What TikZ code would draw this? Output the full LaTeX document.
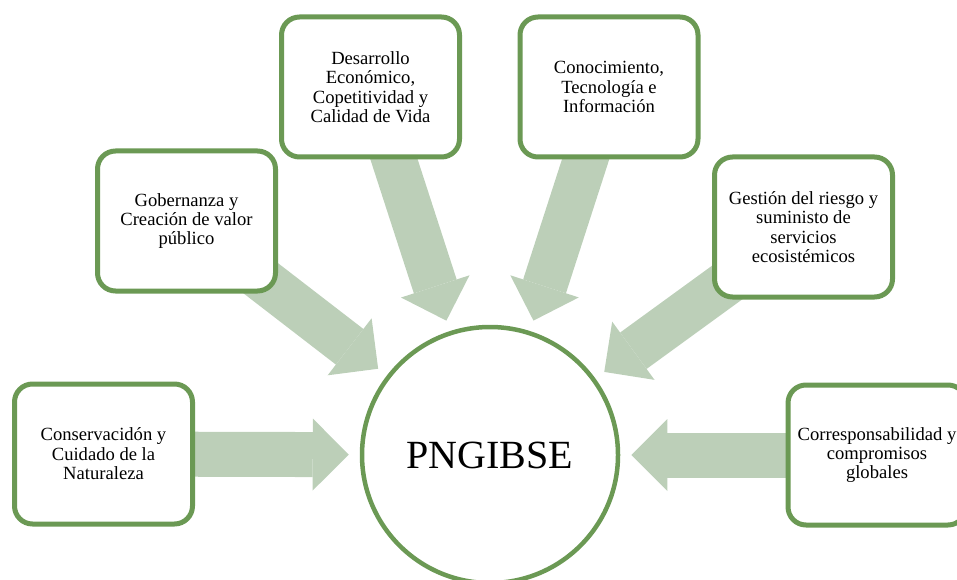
\documentclass[tikz,border=0pt]{standalone}
\usepackage{fontspec}
\setmainfont{Liberation Serif}
\usetikzlibrary{arrows.meta,backgrounds}
\definecolor{leaf}{RGB}{107,153,84}
\definecolor{sage}{RGB}{188,207,184}
\begin{document}
\begin{tikzpicture}[x=1pt, y=-1pt,
  main/.style={draw=leaf, line width=5pt, fill=white, rounded corners=18pt, minimum width=178pt, minimum height=140pt, inner sep=0pt, align=center, font=\fontsize{18.6}{19.4}\selectfont},
  hub/.style={circle, draw=leaf, line width=4.5pt, fill=white, minimum size=256pt, font=\fontsize{40}{44}\selectfont},
  flow/.style={draw=sage, line width=45pt, shorten >=11pt, -{Triangle[length=36pt, width=72pt, line width=0pt]}}]

\useasboundingbox (0,0) rectangle (957,580);

\node[hub] at (490,455) (p) {PNGIBSE};

\node[main] at (103.5,454) (n0) {Conservacidón y\\Cuidado de la\\Naturaleza};
\node[main] at (186.5,221) (n1) {Gobernanza y\\Creación de valor\\público};
\node[main] at (370.5,87) (n2) {Desarrollo\\Económico,\\Copetitividad y\\Calidad de Vida};
\node[main] at (609,87) (n3) {Conocimiento,\\Tecnología e\\Información};
\node[main] at (803.5,227) (n4) {Gestión del riesgo y\\suministo de\\servicios\\ecosistémicos};
\node[main] at (877,455) (n5) {Corresponsabilidad y\\compromisos\\globales};

\begin{pgfonlayer}{background}
\draw[flow] (n0.center) -- (p);
\draw[flow] (n1.center) -- (p);
\draw[flow] (n2.center) -- (p);
\draw[flow] (n3.center) -- (p);
\draw[flow] (n4.center) -- (p);
\draw[flow] (n5.center) -- (p);
\end{pgfonlayer}

\end{tikzpicture}
\end{document}
